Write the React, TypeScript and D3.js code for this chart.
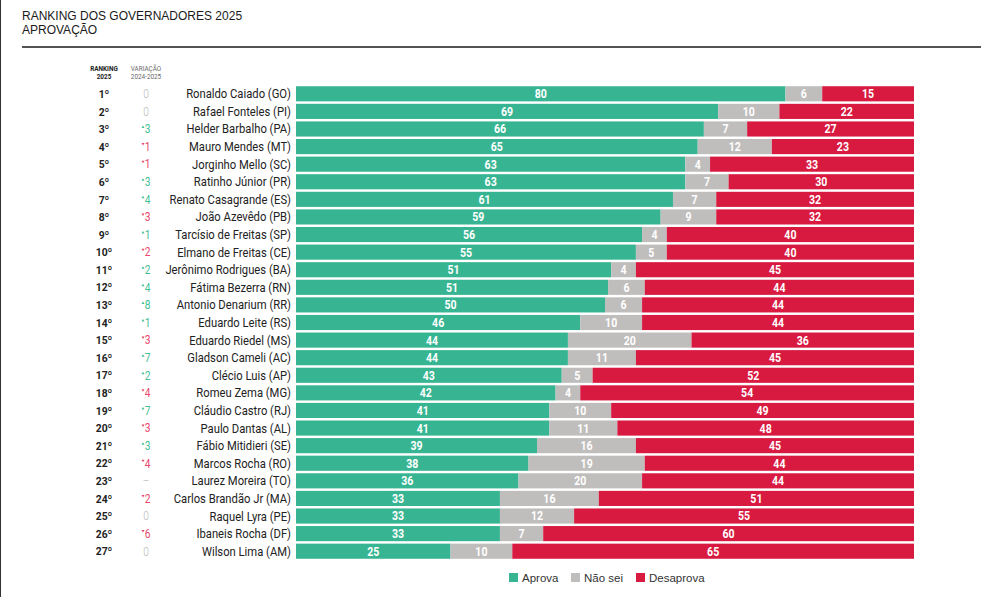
import React, { useEffect, useRef } from 'react';
import * as d3 from 'd3';

const governors = [
  'Ronaldo Caiado (GO)', 'Rafael Fonteles (PI)', 'Helder Barbalho (PA)', 'Mauro Mendes (MT)',
  'Jorginho Mello (SC)', 'Ratinho Júnior (PR)', 'Renato Casagrande (ES)', 'João Azevêdo (PB)',
  'Tarcísio de Freitas (SP)', 'Elmano de Freitas (CE)', 'Jerônimo Rodrigues (BA)', 'Fátima Bezerra (RN)',
  'Antonio Denarium (RR)', 'Eduardo Leite (RS)', 'Eduardo Riedel (MS)', 'Gladson Cameli (AC)',
  'Clécio Luis (AP)', 'Romeu Zema (MG)', 'Cláudio Castro (RJ)', 'Paulo Dantas (AL)',
  'Fábio Mitidieri (SE)', 'Marcos Rocha (RO)', 'Laurez Moreira (TO)', 'Carlos Brandão Jr (MA)',
  'Raquel Lyra (PE)', 'Ibaneis Rocha (DF)', 'Wilson Lima (AM)',
];

// variation 2024-2025 (null = new in ranking)
const variation: (number | null)[] = [
  0, 0, 3, -1, -1, 3, 4, -3, 1, -2, 2, 4, 8, 1, -3, 7, 2, -4, 7, -3, 3, -4, null, -2, 0, -6, 0,
];

const aprova = [80, 69, 66, 65, 63, 63, 61, 59, 56, 55, 51, 51, 50, 46, 44, 44, 43, 42, 41, 41, 39, 38, 36, 33, 33, 33, 25];
const naoSei = [6, 10, 7, 12, 4, 7, 7, 9, 4, 5, 4, 6, 6, 10, 20, 11, 5, 4, 10, 11, 16, 19, 20, 16, 12, 7, 10];
const desaprova = [15, 22, 27, 23, 33, 30, 32, 32, 40, 40, 45, 44, 44, 44, 36, 45, 52, 54, 49, 48, 45, 44, 44, 51, 55, 60, 65];

const seriesKeys = ['aprova', 'naoSei', 'desaprova'];
const seriesLabels = ['Aprova', 'Não sei', 'Desaprova'];
const seriesColors = ['#37b592', '#bfbebd', '#d81a40'];

const width = 981;
const height = 597;

const App: React.FC = () => {
  const svgRef = useRef<SVGSVGElement>(null);

  useEffect(() => {
    const svg = d3.select(svgRef.current);
    svg.selectAll('*').remove();

    const rows = governors.map((name, i) => ({
      name,
      rank: i + 1,
      variation: variation[i],
      aprova: aprova[i],
      naoSei: naoSei[i],
      desaprova: desaprova[i],
    }));

    const x = d3.scaleLinear().domain([0, 1]).range([296, 914]);
    const y = d3.scaleBand<string>()
      .domain(governors)
      .range([85, 560])
      .paddingInner(0.14)
      .paddingOuter(0.07);
    const color = d3.scaleOrdinal<string, string>().domain(seriesKeys).range(seriesColors);

    const stacked = d3.stack<any>()
      .keys(seriesKeys)
      .offset(d3.stackOffsetExpand)(rows);

    svg.append('rect').attr('width', width).attr('height', height).attr('fill', '#fff');

    // left frame edge
    svg.append('line')
      .attr('x1', 0.5).attr('x2', 0.5).attr('y1', 0).attr('y2', height)
      .attr('stroke', '#333').attr('stroke-width', 1);

    // title
    const title = svg.append('g')
      .attr('font-family', '"Liberation Sans", Arial, sans-serif')
      .attr('font-size', 12)
      .attr('fill', '#1a1a1a');
    title.append('text').attr('x', 22).attr('y', 20).text('RANKING DOS GOVERNADORES 2025');
    title.append('text').attr('x', 22).attr('y', 34).text('APROVAÇÃO');

    svg.append('line')
      .attr('x1', 22).attr('x2', width).attr('y1', 47).attr('y2', 47)
      .attr('stroke', '#1a1a1a').attr('stroke-width', 1.3);

    // column headers (condensed look)
    const head = svg.append('g')
      .attr('font-family', 'Roboto, sans-serif')
      .attr('font-size', 7.5)
      .attr('text-anchor', 'middle');
    const headText = (cx: number, cyy: number, t: string, bold: boolean) =>
      head.append('text')
        .attr('transform', `translate(${cx},${cyy}) scale(0.85,1)`)
        .attr('font-weight', bold ? 700 : 400)
        .attr('fill', bold ? '#222' : '#6a6a6a')
        .text(t);
    headText(104, 71, 'RANKING', true);
    headText(104, 79, '2025', true);
    headText(146, 71, 'VARIAÇÃO', false);
    headText(146, 79, '2024-2025', false);

    const cy = (name: string) => (y(name) as number) + y.bandwidth() / 2;

    // rank column
    svg.append('g')
      .attr('font-family', 'Roboto, sans-serif')
      .attr('font-size', 11.5)
      .attr('font-weight', 700)
      .attr('text-anchor', 'middle')
      .attr('fill', '#222')
      .selectAll('text')
      .data(rows)
      .join('text')
      .attr('transform', d => `translate(104,${cy(d.name)}) scale(0.9,1)`)
      .attr('dy', '0.36em')
      .text(d => `${d.rank}º`);

    // variation column
    const varColor = (v: number | null) =>
      v === null || v === 0 ? '#b9b9b9' : v > 0 ? '#45bf98' : '#e8486c';

    const vItems = svg.append('g')
      .attr('font-family', 'Roboto, sans-serif')
      .attr('font-size', 12)
      .selectAll('g')
      .data(rows)
      .join('g')
      .attr('transform', d => `translate(146,${cy(d.name)})`);

    vItems.append('text')
      .attr('transform', d => `translate(${d.variation ? 1.5 : 0},0) scale(0.85,1)`)
      .attr('dy', '0.36em')
      .attr('text-anchor', 'middle')
      .attr('font-weight', d => (d.variation ? 400 : 300))
      .attr('fill', d => varColor(d.variation))
      .text(d => (d.variation === null ? '–' : String(Math.abs(d.variation))));

    vItems.filter(d => !!d.variation)
      .append('path')
      .attr('d', d => (d.variation! > 0 ? 'M-4.5,-1 L-3,-3.5 L-1.5,-1 Z' : 'M-4.5,-3.5 L-1.5,-3.5 L-3,-1 Z'))
      .attr('fill', d => varColor(d.variation));

    // names (condensed look)
    svg.append('g')
      .attr('font-family', 'Roboto, sans-serif')
      .attr('font-size', 12.5)
      .attr('text-anchor', 'end')
      .attr('fill', '#222')
      .selectAll('text')
      .data(rows)
      .join('text')
      .attr('transform', d => `translate(291,${cy(d.name)}) scale(0.9,1)`)
      .attr('dy', '0.36em')
      .text(d => d.name);

    // stacked bars
    const layers = svg.append('g')
      .selectAll('g')
      .data(stacked)
      .join('g')
      .attr('fill', s => color(s.key));

    layers.selectAll('rect')
      .data(s => s)
      .join('rect')
      .attr('x', d => x(d[0]))
      .attr('width', d => x(d[1]) - x(d[0]))
      .attr('y', d => y(d.data.name) as number)
      .attr('height', y.bandwidth());

    layers.selectAll('text')
      .data(s => s.map(d => ({ d, key: s.key })))
      .join('text')
      .attr('transform', o => `translate(${(x(o.d[0]) + x(o.d[1])) / 2},${cy(o.d.data.name)}) scale(0.88,1)`)
      .attr('dy', '0.37em')
      .attr('text-anchor', 'middle')
      .attr('font-family', 'Roboto, sans-serif')
      .attr('font-size', 12)
      .attr('font-weight', 700)
      .attr('fill', '#fff')
      .text(o => o.d.data[o.key]);

    // legend
    const legend = svg.append('g')
      .attr('font-family', '"Liberation Sans", Arial, sans-serif')
      .attr('font-size', 11.5)
      .attr('fill', '#333');
    const legendX = [509, 571, 636];
    seriesKeys.forEach((k, i) => {
      const item = legend.append('g').attr('transform', `translate(${legendX[i]},573)`);
      item.append('rect').attr('width', 9).attr('height', 9).attr('fill', color(k));
      item.append('text').attr('x', 13).attr('y', 4.5).attr('dy', '0.36em').text(seriesLabels[i]);
    });
  }, []);

  return (
    <div style={{ position: 'fixed', top: 0, left: 0, width, height, background: '#fff' }}>
      <svg ref={svgRef} width={width} height={height} style={{ display: 'block' }}></svg>
    </div>
  );
};

export default App;
